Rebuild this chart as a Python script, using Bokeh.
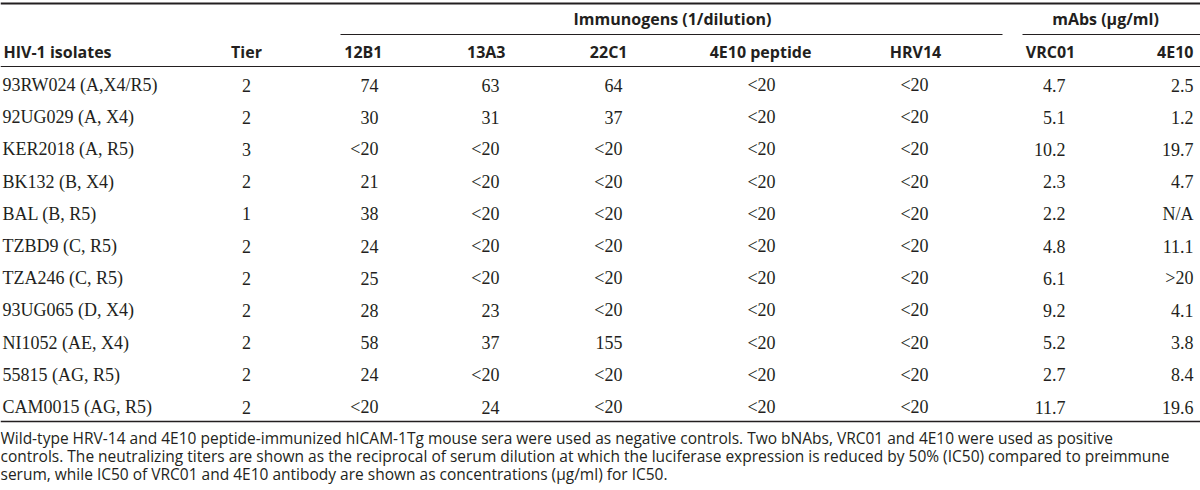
from bokeh.plotting import figure
from bokeh.models import Range1d, ColumnDataSource
from bokeh.core.properties import value
from bokeh.embed import file_html
from bokeh.resources import INLINE

# ---------------- data ----------------
isolates = ["93RW024 (A,X4/R5)", "92UG029 (A, X4)", "KER2018 (A, R5)", "BK132 (B, X4)",
            "BAL (B, R5)", "TZBD9 (C, R5)", "TZA246 (C, R5)", "93UG065 (D, X4)",
            "NI1052 (AE, X4)", "55815 (AG, R5)", "CAM0015 (AG, R5)"]
tier = ["2", "2", "3", "2", "1", "2", "2", "2", "2", "2", "2"]
c12B1 = ["74", "30", "<20", "21", "38", "24", "25", "28", "58", "24", "<20"]
c13A3 = ["63", "31", "<20", "<20", "<20", "<20", "<20", "23", "37", "<20", "24"]
c22C1 = ["64", "37", "<20", "<20", "<20", "<20", "<20", "<20", "155", "<20", "<20"]
c4E10pep = ["<20"] * 11
cHRV14 = ["<20"] * 11
cVRC01 = ["4.7", "5.1", "10.2", "2.3", "2.2", "4.8", "6.1", "9.2", "5.2", "2.7", "11.7"]
c4E10 = ["2.5", "1.2", "19.7", "4.7", "N/A", "11.1", ">20", "4.1", "3.8", "8.4", "19.6"]

headers = ["HIV-1 isolates", "Tier", "12B1", "13A3", "22C1", "4E10 peptide", "HRV14", "VRC01", "4E10"]
group_headers = ["Immunogens (1/dilution)", "mAbs (\u00b5g/ml)"]
footnote = [
    "Wild-type HRV-14 and 4E10 peptide-immunized hICAM-1Tg mouse sera were used as negative controls. Two bNAbs, VRC01 and 4E10 were used as positive",
    "controls. The neutralizing titers are shown as the reciprocal of serum dilution at which the luciferase expression is reduced by 50% (IC50) compared to preimmune",
    "serum, while IC50 of VRC01 and 4E10 antibody are shown as concentrations (\u00b5g/ml) for IC50.",
]

# ---------------- layout ----------------
W, H = 1200, 490
TXT = "#231f20"
SERIF = value("Liberation Serif")
SANS = value("Open Sans")

p = figure(width=W, height=H, x_range=Range1d(0, W), y_range=Range1d(H, 0),
           output_backend="svg", toolbar_location=None, tools="", min_border=0,
           x_axis_location=None, y_axis_location=None)
p.xgrid.visible = False
p.ygrid.visible = False
p.outline_line_color = None
p.background_fill_color = "white"
p.border_fill_color = "white"

row_y0, row_step = 84.5, 32.2
row_y = [row_y0 + i * row_step for i in range(len(isolates))]
n = len(isolates)

# rules
p.segment(x0=[0, 0, 0], y0=[3, 66, 421], x1=[W, W, W], y1=[3, 66, 421],
          line_color=TXT, line_width=[2, 1.2, 1.6])
p.segment(x0=[340, 1022], y0=[34, 34], x1=[1002, W], y1=[34, 34],
          line_color=TXT, line_width=1.2)

# group headers
p.text(x=[672, 1105], y=[18, 18], text=group_headers, text_align="center",
       text_baseline="middle", text_font=SANS, text_font_style="bold",
       text_font_size="16px", text_color=TXT)

# column headers
hx = [3, 246, 382, 505, 627, 760, 915, 1050, 1193]
ha = ["left", "center", "right", "right", "right", "center", "center", "center", "right"]
for x, t, a in zip(hx, headers, ha):
    p.text(x=[x], y=[51], text=[t], text_align=a, text_baseline="middle",
           text_font=SANS, text_font_style="bold", text_font_size="16px", text_color=TXT)

# body
cols = [(isolates, 2, "left"), (tier, 246, "center"), (c12B1, 378, "right"),
        (c13A3, 499, "right"), (c22C1, 622, "right"), (c4E10pep, 761, "center"),
        (cHRV14, 914, "center"), (cVRC01, 1065, "right"), (c4E10, 1193, "right")]
for vals, x, a in cols:
    src = ColumnDataSource(dict(x=[x] * n, y=row_y, t=vals))
    p.text(x="x", y="y", text="t", source=src, text_align=a, text_baseline="middle",
           text_font=SERIF, text_font_size="18px", text_color=TXT)

# footnote
p.text(x=[0, 0, 0], y=[437, 455, 473], text=footnote, text_align="left",
       text_baseline="middle", text_font=SANS, text_font_size="15.5px", text_color=TXT)

open("out.html", "w").write(file_html(p, INLINE))
